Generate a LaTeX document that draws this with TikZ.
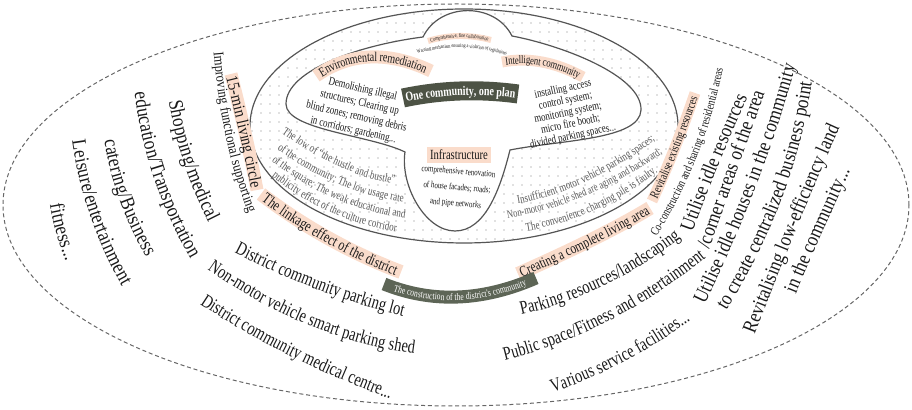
\documentclass[tikz,border=0pt]{standalone}
\usepackage{fontspec}
\setmainfont{Liberation Serif}[FakeStretch=0.85]
\newfontfamily\narrow{Liberation Serif}[FakeStretch=0.76]
\usetikzlibrary{calc,decorations.text,patterns.meta}

\definecolor{peach}{HTML}{FADCCB}
\definecolor{banner}{HTML}{4D5345}
\definecolor{bannerlt}{HTML}{5D6556}
\definecolor{rim}{HTML}{555555}
\definecolor{ink}{HTML}{1A1A1A}
\definecolor{faded}{HTML}{585858}

\newcommand\fside{\fontsize{10.2}{12}\selectfont}
\newcommand\fbot{\narrow\fontsize{9.5}{11}\selectfont}
\newcommand\fring{\narrow\fontsize{5.9}{7}\selectfont}

% curve from #1 through #2 to #3
\newcommand\arcpath[3]{(#1) .. controls ($1.3333*(#2)-0.3333*(#3)$) and ($1.3333*(#2)-0.3333*(#1)$) .. (#3)}
% text along a curve: [colour]{font}{raise}{from}{via}{to}{text}
\newcommand\arclabel[7][ink]{%
  \path[decorate,decoration={text along path,text align=center,raise=#3,
    text={|#2\color{#1}|#7}}] \arcpath{#4}{#5}{#6};}
% coloured band under a curved label
\newcommand\arcband[5]{\draw[#1,line width=#2] \arcpath{#3}{#4}{#5};}

\begin{document}
\begin{tikzpicture}[x=0.5pt,y=-0.5pt,
  para/.style={align=center,inner sep=0pt,text=ink},
  ring/.style={rim,line width=0.6pt}]
\useasboundingbox (0,0) rectangle (912,410);

% outer field
\draw[gray!80!black,line width=0.5pt,dash pattern=on 2pt off 1.4pt]
  (456,205) ellipse [x radius=226.5pt,y radius=100.5pt];

% dotted ring
\fill[white] (464,126) ellipse [x radius=107pt,y radius=58.5pt];
\fill[pattern={Dots[distance=4.5pt,radius=0.35pt]},pattern color=gray]
  (464,126) ellipse [x radius=107pt,y radius=58.5pt];
\draw[ring] (464,126) ellipse [x radius=107pt,y radius=58.5pt];

% inner plan with the infrastructure lobe
\draw[ring,fill=white] (405,152) .. controls (400,185) and (425,231) .. (455,231)
  .. controls (485,231) and (500,190) .. (510,150)
  .. controls (560,140) and (640,140) .. (641,110)
  .. controls (642,75) and (560,45) .. (512,36)
  .. controls (495,2) and (440,2) .. (423,37)
  .. controls (360,45) and (286,70) .. (286,104)
  .. controls (286,130) and (370,135) .. (405,152) -- cycle;

% highlight bands and banners
\arcband{peach}{6.5pt}{231,74}{246,137}{257,190}
\arcband{peach}{7pt}{261,194}{328,238}{401,272}
\arcband{peach}{7pt}{518,274}{595,238}{650,208}
\arcband{peach}{5.5pt}{652,201}{674,150}{695,93}
\arcband{peach}{6.5pt}{316,76}{370,57}{431,71}
\arcband{peach}{5.5pt}{502,62}{542,62}{583,77}
\arcband{peach}{3pt}{428,41}{459,36}{491,40}
\arcband{bannerlt}{6.5pt}{384,284}{458,297}{536,278}
\arcband{banner}{9.5pt}{403,98}{460,91}{518,94}

% left field
\arclabel{\fside}{-3.4pt}{175,95}{190,160}{217,224}{Shopping/medical}
\arclabel{\fside}{-3.4pt}{141,87}{160,175}{199,260}{education/Transportation}
\arclabel{\fside}{-3.4pt}{110,132}{126,198}{156,260}{catering/Business}
\arclabel{\fside}{-3.4pt}{78,132}{96,212}{132,290}{Leisure/entertainment}
\arclabel{\fside}{-3.4pt}{55,194}{63,232}{76,268}{fitness...}
\arclabel{\fontsize{7.4}{9}\selectfont}{-2.4pt}{218,46}{231,138}{255,217}{Improving functional supporting}
\arclabel{\fontsize{8.4}{10}\selectfont}{-2.8pt}{231,74}{246,137}{257,190}{15-min living circle}
\arclabel{\narrow\fontsize{7.8}{9}\selectfont}{-2.6pt}{261,194}{328,238}{401,272}{The linkage effect of the district}

% bottom field
\arclabel{\fbot}{-3.1pt}{235,246}{320,284}{407,311}{District community parking lot}
\arclabel{\fbot}{-3.1pt}{208,262}{312,320}{419,348}{Non-motor vehicle smart parking shed}
\arclabel{\fbot}{-3.1pt}{199,296}{292,350}{397,395}{District community medical centre...}
\arclabel{\fbot}{-3.1pt}{514,310}{600,281}{682,229}{Parking resources/landscaping}
\arclabel{\fbot}{-3.1pt}{496,356}{605,316}{708,248}{Public space/Fitness and entertainment}
\arclabel{\fbot}{-3.1pt}{547,388}{620,357}{690,313}{Various service facilities...}
\arclabel[white]{\narrow\fontsize{5}{6}\selectfont}{-1.7pt}{384,284}{458,297}{536,278}{The construction of the district's community}

% right field
\arclabel{\fside}{-3.4pt}{684,236}{712,163}{744,89}{Utilise idle resources}
\arclabel{\fside}{-3.4pt}{701,252}{730,170}{760,86}{/corner areas of the area}
\arclabel{\fside}{-3.4pt}{697,305}{752,178}{790,60}{Utilise idle houses in the community}
\arclabel{\fside}{-3.4pt}{717,313}{776,195}{806,75}{to create centralized business point}
\arclabel{\fside}{-3.4pt}{747,335}{797,210}{835,122}{Revitalising low-efficiency land}
\arclabel{\fside}{-3.4pt}{787,298}{815,232}{847,162}{in the community...}
\arclabel{\narrow\fontsize{7.5}{9}\selectfont}{-2.5pt}{518,274}{595,238}{650,208}{Creating a complete living area}
\arclabel{\narrow\fontsize{6.3}{7}\selectfont}{-2.1pt}{652,201}{674,150}{695,93}{Revitalise existing resources}
\arclabel{\narrow\fontsize{6.2}{7}\selectfont}{-2pt}{651,238}{693,156}{720,64}{Co-construction and sharing of residential areas}

% dotted ring
\arclabel[faded]{\fring}{-2pt}{277,125}{345,165}{404,180}{The low of “the hustle and bustle”}
\arclabel[faded]{\fring}{-2pt}{269,138}{343,182}{417,199}{of the community; The low usage rate}
\arclabel[faded]{\fring}{-2pt}{265,151}{339,196}{417,215}{of the square; The weak educational and}
\arclabel[faded]{\fring}{-2pt}{264,165}{335,210}{410,229}{publicity effect of the culture corridor}
\arclabel[faded]{\narrow\fontsize{5.9}{7}\selectfont}{-2pt}{503,202}{585,178}{664,128}{Insufficient motor vehicle parking spaces;}
\arclabel[faded]{\narrow\fontsize{5.6}{7}\selectfont}{-1.9pt}{498,216}{585,192}{668,145}{Non-motor vehicle shed are aging and backward;}
\arclabel[faded]{\narrow\fontsize{5.9}{7}\selectfont}{-2pt}{520,228}{592,207}{660,165}{The convenience charging pile is faulty.}

% inner plan
\arclabel{\narrow\fontsize{6.7}{8}\selectfont}{-2.2pt}{316,76}{370,57}{431,71}{Environmental remediation}
\arclabel{\narrow\fontsize{5.7}{7}\selectfont}{-1.9pt}{502,62}{542,62}{583,77}{Intelligent community}
\arclabel[white]{\narrow\bfseries\fontsize{6.6}{8}\selectfont}{-2.2pt}{403,98}{460,91}{518,94}{One community, one plan}
\arclabel{\narrow\fontsize{2.8}{3}\selectfont}{-0.9pt}{428,41}{459,36}{491,40}{Comprehensive, fine collaboration}
\arclabel{\narrow\fontsize{2.7}{3}\selectfont}{-0.9pt}{413,53}{462,46}{511,55}{Warning mechanism ensuring a violation of regulations}

\node[para,font=\narrow\fontsize{5.8}{7}\selectfont,rotate=-13] (demolish) at (358,110)
  {Demolishing illegal\\structures; Clearing up\\blind zones; removing debris\\in corridors; gardening...};
\node[para,font=\narrow\fontsize{5.8}{6}\selectfont,rotate=12] (access) at (568,113)
  {installing access\\control system;\\monitoring system;\\micro fire booth;\\divided parking spaces...};
\node[fill=peach,inner sep=1.5pt,text=ink,font=\narrow\fontsize{7}{8}\selectfont] (infra) at (459,155) {Infrastructure};
\node[para,font=\narrow\fontsize{4.6}{8}\selectfont,rotate=-5] (renovate) at (457,188)
  {comprehensive renovation\\of house facades; roads;\\and pipe networks};
\end{tikzpicture}
\end{document}
